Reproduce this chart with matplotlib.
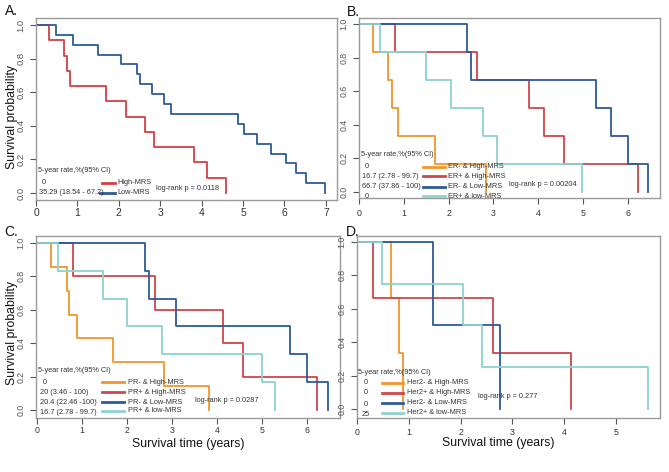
import matplotlib
matplotlib.use("Agg")
import matplotlib.pyplot as plt

plt.rcParams['font.family'] = ['Liberation Sans Narrow', 'Liberation Sans', 'DejaVu Sans']

W, H = 669, 472

# ---------------- data ----------------
# Panel A
a_high_t = [0, 0.31, 0.67, 0.74, 0.81, 1.70, 2.18, 2.64, 2.84, 3.82, 4.14, 4.60]
a_high_s = [1, 0.909, 0.818, 0.727, 0.636, 0.545, 0.455, 0.364, 0.273, 0.182, 0.091, 0.0]
a_low_t = [0, 0.48, 0.89, 1.49, 2.05, 2.43, 2.51, 2.79, 3.10, 3.25, 4.87, 5.03, 5.33, 5.67, 6.05, 6.28, 6.52, 6.97]
a_low_s = [1, 0.941, 0.882, 0.824, 0.765, 0.706, 0.647, 0.588, 0.529, 0.471, 0.412, 0.353, 0.294, 0.235, 0.176, 0.118, 0.059, 0.0]
a_labels = ["High-MRS", "Low-MRS"]
a_rates = ["0", "35.29 (18.54 - 67.2)"]
a_p = "log-rank p = 0.0118"

# Panel B
b_t = [
    [0, 0.32, 0.65, 0.73, 0.88, 1.70, 2.83],
    [0, 0.81, 2.63, 3.80, 4.13, 4.58, 6.22],
    [0, 2.42, 2.50, 5.28, 5.62, 6.00, 6.46],
    [0, 0.47, 1.49, 2.05, 2.76, 3.09, 4.97],
]
b_s = [
    [1, 0.833, 0.667, 0.5, 0.333, 0.167, 0.0],
    [1, 0.833, 0.667, 0.5, 0.333, 0.167, 0.0],
    [1, 0.833, 0.667, 0.5, 0.333, 0.167, 0.0],
    [1, 0.833, 0.667, 0.5, 0.333, 0.167, 0.0],
]
b_labels = ["ER- & High-MRS", "ER+ & High-MRS", "ER- & Low-MRS", "ER+ & low-MRS"]
b_rates = ["0", "16.7 (2.78 - 99.7)", "66.7 (37.86 - 100)", "0"]
b_p = "log-rank p = 0.00204"

# Panel C
c_t = [
    [0, 0.31, 0.66, 0.72, 0.88, 1.68, 2.83, 3.81],
    [0, 0.81, 2.62, 4.13, 4.58, 6.23],
    [0, 2.41, 2.49, 3.08, 5.62, 5.99, 6.47],
    [0, 0.47, 1.47, 2.01, 2.77, 4.99, 5.29],
]
c_s = [
    [1, 0.857, 0.714, 0.571, 0.429, 0.286, 0.143, 0.0],
    [1, 0.8, 0.6, 0.4, 0.2, 0.0],
    [1, 0.833, 0.667, 0.5, 0.333, 0.167, 0.0],
    [1, 0.833, 0.667, 0.5, 0.333, 0.167, 0.0],
]
c_labels = ["PR- & High-MRS", "PR+ & High-MRS", "PR- & Low-MRS", "PR+ & low-MRS"]
c_rates = ["0", "20 (3.46 - 100)", "20.4 (22.46 -100)", "16.7 (2.78 - 99.7)"]
c_p = "log-rank p = 0.0287"

# Panel D
d_t = [
    [0, 0.66, 0.81, 0.89],
    [0, 0.31, 2.63, 4.14],
    [0, 1.47, 2.76],
    [0, 0.48, 2.05, 2.41, 5.62],
]
d_s = [
    [1, 0.667, 0.333, 0.0],
    [1, 0.667, 0.333, 0.0],
    [1, 0.5, 0.0],
    [1, 0.75, 0.5, 0.25, 0.0],
]
d_labels = ["Her2- & High-MRS", "Her2+ & High-MRS", "Her2- & Low-MRS", "Her2+ & low-MRS"]
d_rates = ["0", "0", "0", "25"]
d_p = "log-rank p = 0.277"

# ---------------- style ----------------
ORANGE = "#f0962a"
RED = "#d2454a"
BLUE = "#2d5b98"
CYAN = "#8ed2d2"
colors4 = [ORANGE, RED, BLUE, CYAN]
BOX = "#9a9a9a"
TXT = "#333333"

fig = plt.figure(figsize=(W / 100, H / 100), dpi=100)
fig.patch.set_facecolor("white")


def make_ax(x0, y0, x1, y1):
    return fig.add_axes([x0 / W, 1 - y1 / H, (x1 - x0) / W, (y1 - y0) / H])


def style(ax, xlim, ylim, xticks, xfs, yfs, xpad, ypad):
    ax.set_xlim(*xlim)
    ax.set_ylim(*ylim)
    ax.set_xticks(xticks)
    ax.set_xticklabels([str(v) for v in xticks])
    yt = [0.0, 0.2, 0.4, 0.6, 0.8, 1.0]
    ax.set_yticks(yt)
    ax.set_yticklabels([f"{v:.1f}" for v in yt], rotation=90, va="center")
    for s in ax.spines.values():
        s.set_color(BOX)
        s.set_linewidth(1.0)
    ax.tick_params(axis="x", length=4, width=0.8, color="#555555", labelsize=xfs,
                   labelcolor=TXT, pad=xpad)
    ax.tick_params(axis="y", length=4.5, width=0.8, color="#555555", labelsize=yfs,
                   labelcolor="#555555", pad=ypad)


def ftext(x, y, s, **kw):
    fig.text(x / W, 1 - y / H, s, **kw)


def fline(x0, x1, y, c):
    fig.add_artist(plt.Line2D([x0 / W, x1 / W], [1 - y / H, 1 - y / H], color=c, lw=2.0))


LW = 1.3
LFS = 5.3
AXFS = 8.8

# ---- Panel A ----
axA = make_ax(36, 18, 337, 200)
style(axA, (0, 7.27), (-0.0417, 1.0417), list(range(8)), 7.5, 6.8, 2, 3)
axA.step(a_high_t, a_high_s, where="post", color="#d63f44", lw=LW)
axA.step(a_low_t, a_low_s, where="post", color=BLUE, lw=LW)
ftext(5, 11, "A.", fontsize=10, va="center", ha="left", color="#111111")
ftext(12, 117, "Survival probability", fontsize=AXFS, rotation=90, va="center", ha="center", color="#111111")
ftext(38, 171, "5-year rate,%(95% CI)", fontsize=LFS, va="center", color=TXT)
ftext(42, 183, a_rates[0], fontsize=LFS, va="center", color=TXT)
ftext(39, 193, a_rates[1], fontsize=LFS, va="center", color=TXT)
fline(102, 115, 183, "#d63f44")
fline(100, 115, 193, BLUE)
ftext(117, 183, a_labels[0], fontsize=LFS, va="center", color=TXT)
ftext(117, 193, a_labels[1], fontsize=LFS, va="center", color=TXT)
ftext(156, 189, a_p, fontsize=LFS, va="center", color=TXT)

# ---- Panel B ----
axB = make_ax(359, 18, 660, 198)
style(axB, (0, 6.72), (-0.036, 1.036), list(range(7)), 6.3, 6.3, 4, 3)
for t, s, c in zip(b_t, b_s, colors4):
    axB.step(t, s, where="post", color=c, lw=LW)
ftext(347, 12, "B.", fontsize=10, va="center", ha="left", color="#111111")
ftext(361, 154, "5-year rate,%(95% CI)", fontsize=LFS, va="center", color=TXT)
b_rows = [166, 177, 187, 197]
b_rate_x = [365, 362, 362, 365]
for yy, xx, r in zip(b_rows, b_rate_x, b_rates):
    ftext(xx, yy, r, fontsize=LFS, va="center", color=TXT)
b_line_y = [167, 176, 187, 196]
for yy, c, lab in zip(b_line_y, colors4, b_labels):
    fline(423, 445, yy, c)
    ftext(448, yy, lab, fontsize=LFS, va="center", color=TXT)
ftext(509, 184, b_p, fontsize=LFS, va="center", color=TXT)

# ---- Panel C ----
axC = make_ax(36, 236, 340, 418)
style(axC, (-0.022, 6.73), (-0.048, 1.042), list(range(7)), 6.3, 6.3, 2, 3)
for t, s, c in zip(c_t, c_s, colors4):
    axC.step(t, s, where="post", color=c, lw=LW)
ftext(4, 232, "C.", fontsize=10, va="center", ha="left", color="#111111")
ftext(12, 333, "Survival probability", fontsize=AXFS, rotation=90, va="center", ha="center", color="#111111")
ftext(188, 444, "Survival time (years)", fontsize=AXFS, va="center", ha="center", color="#111111")
ftext(38, 371, "5-year rate,%(95% CI)", fontsize=LFS, va="center", color=TXT)
c_rows = [382, 392, 402, 412]
c_rate_x = [43, 40, 40, 40]
for yy, xx, r in zip(c_rows, c_rate_x, c_rates):
    ftext(xx, yy, r, fontsize=LFS, va="center", color=TXT)
c_line_y = [382, 392, 402, 411]
for yy, c, lab in zip(c_line_y, colors4, c_labels):
    fline(102, 124, yy, c)
    ftext(128, yy, lab, fontsize=LFS, va="center", color=TXT)
ftext(195, 400, c_p, fontsize=LFS, va="center", color=TXT)

# ---- Panel D ----
axD = make_ax(357, 236, 660, 418)
style(axD, (0, 5.85), (-0.054, 1.036), list(range(6)), 6.3, 6.3, 3, 3)
for t, s, c in zip(d_t, d_s, colors4):
    axD.step(t, s, where="post", color=c, lw=LW)
ftext(346, 232, "D.", fontsize=10, va="center", ha="left", color="#111111")
ftext(498, 443, "Survival time (years)", fontsize=AXFS, va="center", ha="center", color="#111111")
ftext(358, 372, "5-year rate,%(95% CI)", fontsize=LFS, va="center", color=TXT)
d_rows = [383, 393, 404, 414]
d_rate_x = [364, 364, 364, 362]
for yy, xx, r in zip(d_rows, d_rate_x, d_rates):
    ftext(xx, yy, r, fontsize=LFS, va="center", color=TXT)
d_line_y = [383, 393, 403, 413]
for yy, c, lab in zip(d_line_y, colors4, d_labels):
    fline(382, 403, yy, c)
    ftext(407, yy, lab, fontsize=LFS, va="center", color=TXT)
ftext(478, 397, d_p, fontsize=LFS, va="center", color=TXT)

fig.savefig("out.png", dpi=100, facecolor="white")
